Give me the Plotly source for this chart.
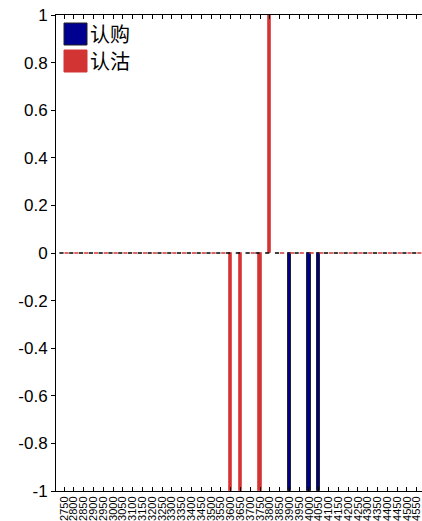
import plotly.graph_objects as go

strikes = list(range(2750, 4551, 50))
call_strikes = [3900, 4000, 4050]
call_vals = [-1, -1, -1]
put_strikes = [3600, 3650, 3750, 3800]
put_vals = [-1, -1, -1, 1]
y_ticks = [1, 0.8, 0.6, 0.4, 0.2, 0, -0.2, -0.4, -0.6, -0.8, -1]
y_ticktext = ["1", "0.8", "0.6", "0.4", "0.2", "0", "-0.2", "-0.4", "-0.6", "-0.8", "-1"]
legend_names = ["认购", "认沽"]

BLUE = "#000090"
RED = "#d23434"

call_zero = [s for s in strikes if s not in call_strikes]
put_zero = [s for s in strikes if s not in put_strikes]

FW, FH = 430, 521
L, T, W, H = 56, 15, 369, 476

fig = go.Figure()
# zero-height segments along y=0
fig.add_trace(go.Scatter(x=[s - 13 for s in call_zero], y=[0] * len(call_zero), mode="markers",
                         marker=dict(symbol="line-ew-open", size=3, color="#000000", line=dict(color="#000000", width=1.5)),
                         showlegend=False, hoverinfo="skip", cliponaxis=False))
fig.add_trace(go.Scatter(x=[s + 13 for s in put_zero], y=[0] * len(put_zero), mode="markers",
                         marker=dict(symbol="line-ew-open", size=3, color=RED, line=dict(color=RED, width=1.5)),
                         showlegend=False, hoverinfo="skip", cliponaxis=False))
fig.add_trace(go.Bar(x=call_strikes, y=call_vals, width=16, name=legend_names[0],
                     marker=dict(color=BLUE, line=dict(color="#222222", width=1)), showlegend=False))
fig.add_trace(go.Bar(x=put_strikes, y=put_vals, width=16, name=legend_names[1],
                     marker=dict(color=RED, line=dict(color="#e05a5a", width=1)), showlegend=False))

# legend drawn manually (squares + text); page coords converted to paper
for i, (name, col, edge) in enumerate(zip(legend_names, [BLUE, RED], ["#222222", RED])):
    y0 = 23 + i * 27
    fig.add_shape(type="rect", xref="paper", yref="paper",
                  x0=(64 - L) / W, x1=(87 - L) / W,
                  y0=1 - (y0 + 22 - T) / H, y1=1 - (y0 - T) / H,
                  fillcolor=col, line=dict(color=edge, width=1))
    fig.add_annotation(xref="paper", yref="paper", x=(88 - L) / W, y=1 - (y0 + 11 - T) / H,
                       text=name, showarrow=False, xanchor="left", yanchor="middle",
                       font=dict(family="Noto Sans CJK SC", size=20, color="#000000"))

fig.update_layout(
    width=FW, height=FH,
    margin=dict(l=L, r=FW - L - W, t=T, b=FH - T - H, autoexpand=False),
    paper_bgcolor="white", plot_bgcolor="white",
    barmode="overlay", bargap=0,
    font=dict(family="Liberation Sans, Arial", color="#000000"),
)
fig.update_xaxes(
    type="linear", range=[2709, 4592], tickvals=strikes, ticktext=[str(s) for s in strikes],
    tickangle=-90, tickfont=dict(size=11, family="Liberation Sans, Arial"), ticks="inside", ticklen=4,
    tickcolor="#000000", automargin=False,
    showline=True, linecolor="#000000", linewidth=1, mirror="ticks", showgrid=False, zeroline=False,
)
fig.update_yaxes(
    range=[-1, 1], tickvals=y_ticks, ticktext=y_ticktext, tickfont=dict(size=17), automargin=False,
    ticks="outside", ticklen=4, tickcolor="#000000",
    showline=True, linecolor="#000000", linewidth=1, mirror="ticks", showgrid=False, zeroline=False,
)

fig.write_html("out.html", config={"displayModeBar": False},
               post_script="document.body.style.margin='0';document.body.style.overflow='hidden';")
